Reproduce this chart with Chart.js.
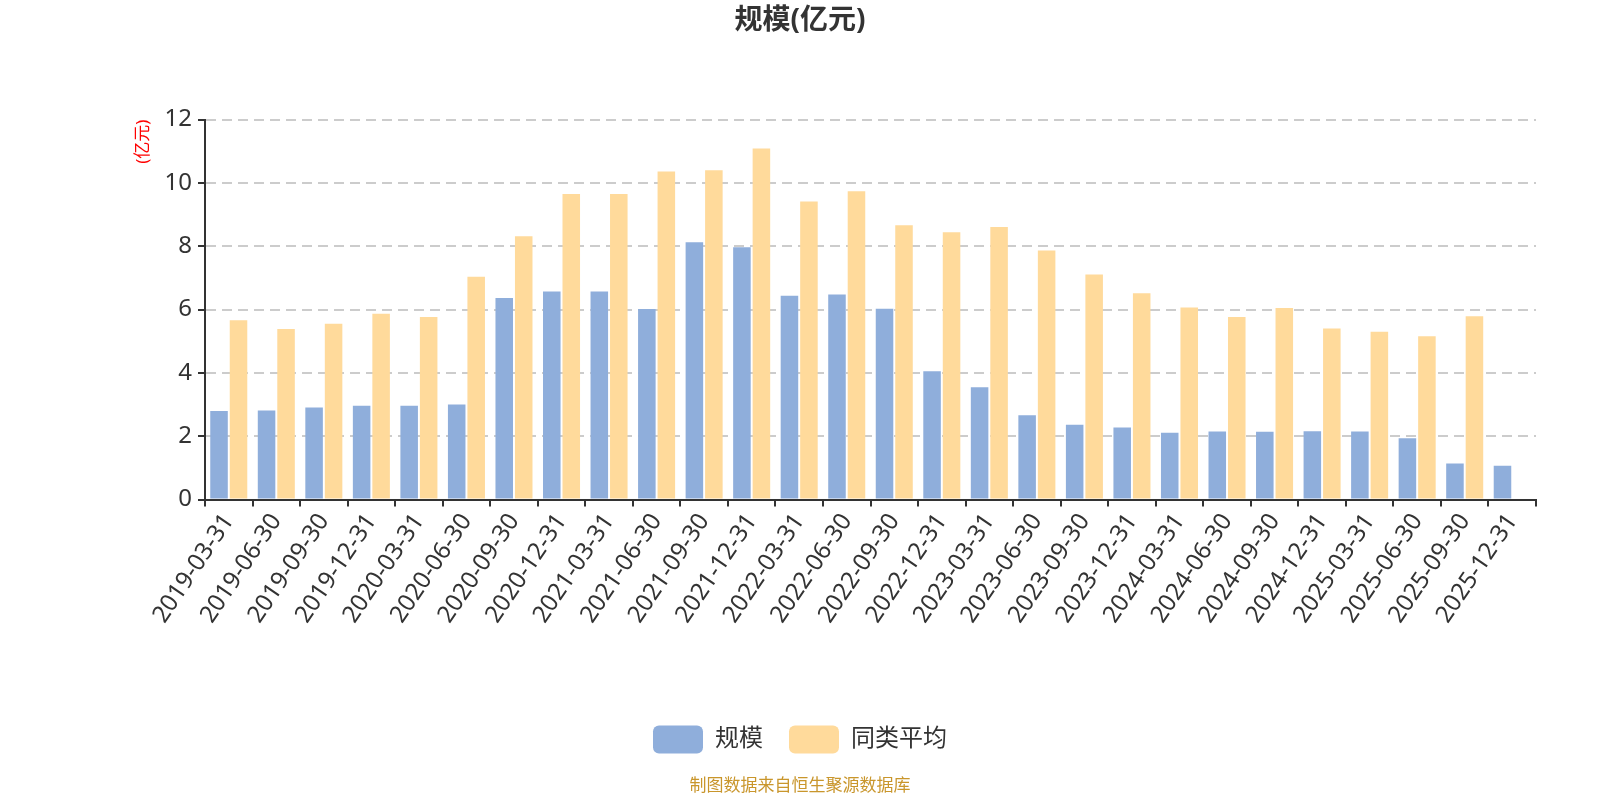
<!DOCTYPE html>
<html lang="zh">
<head>
    <meta charset="UTF-8">
    <title>规模(亿元)</title>
    <script src="https://cdn.jsdelivr.net/npm/chart.js"></script>
    <style>
        html, body { margin: 0; padding: 0; background: #fff; }
        #wrap { width: 1600px; height: 800px; }
    </style>
</head>
<body>
    <div id="wrap">
        <canvas id="scaleChart" width="1600" height="800"></canvas>
    </div>

    <script>
        // quarter-end dates
        const dates = [
            '2019-03-31', '2019-06-30', '2019-09-30', '2019-12-31',
            '2020-03-31', '2020-06-30', '2020-09-30', '2020-12-31',
            '2021-03-31', '2021-06-30', '2021-09-30', '2021-12-31',
            '2022-03-31', '2022-06-30', '2022-09-30', '2022-12-31',
            '2023-03-31', '2023-06-30', '2023-09-30', '2023-12-31',
            '2024-03-31', '2024-06-30', '2024-09-30', '2024-12-31',
            '2025-03-31', '2025-06-30', '2025-09-30', '2025-12-31'
        ];
        // fund size (亿元)
        const fundSize = [
            2.80, 2.81, 2.91, 2.96, 2.96, 3.00, 6.37, 6.57,
            6.57, 6.02, 8.13, 7.97, 6.44, 6.48, 6.03, 4.05,
            3.55, 2.66, 2.36, 2.28, 2.11, 2.15, 2.14, 2.16,
            2.15, 1.94, 1.14, 1.07
        ];
        // peer average (亿元)
        const peerAvg = [
            5.66, 5.39, 5.55, 5.87, 5.77, 7.04, 8.32, 9.65,
            9.65, 10.36, 10.40, 11.09, 9.41, 9.74, 8.66, 8.44,
            8.61, 7.87, 7.11, 6.52, 6.07, 5.77, 6.05, 5.40,
            5.30, 5.16, 5.79, null
        ];
        const yTicks = [0, 2, 4, 6, 8, 10, 12];

        const fontFamily = "'Noto Sans', 'Noto Sans CJK SC', sans-serif";

        const ctx = document.getElementById('scaleChart').getContext('2d');
        new Chart(ctx, {
            type: 'bar',
            data: {
                labels: dates,
                datasets: [
                    {
                        label: '规模',
                        data: fundSize,
                        backgroundColor: '#8faedb',
                        borderWidth: 0
                    },
                    {
                        label: '同类平均',
                        data: peerAvg,
                        backgroundColor: '#ffda9b',
                        borderWidth: 0
                    }
                ]
            },
            options: {
                responsive: false,
                animation: false,
                layout: {
                    // equal side padding keeps title/legend centred on the page
                    padding: { left: 64, right: 64, top: 0, bottom: 4 }
                },
                datasets: {
                    bar: { categoryPercentage: 0.82, barPercentage: 0.9 }
                },
                plugins: {
                    title: {
                        display: true,
                        text: '规模(亿元)',
                        color: '#333',
                        font: { family: fontFamily, size: 28, weight: 'bold' },
                        padding: { top: 4, bottom: 82 }
                    },
                    subtitle: {
                        display: true,
                        position: 'bottom',
                        text: '制图数据来自恒生聚源数据库',
                        color: '#c9962c',
                        font: { family: fontFamily, size: 17 },
                        padding: { top: 12, bottom: 0 }
                    },
                    legend: {
                        position: 'bottom',
                        labels: {
                            boxWidth: 50,
                            boxHeight: 28,
                            useBorderRadius: true,
                            borderRadius: 6,
                            color: '#333',
                            padding: 26,
                            font: { family: fontFamily, size: 24 }
                        }
                    },
                    tooltip: { enabled: false }
                },
                scales: {
                    x: {
                        offset: true,
                        grid: {
                            offset: true,
                            drawOnChartArea: false,
                            drawTicks: true,
                            tickLength: 7,
                            color: '#333',
                            lineWidth: 2
                        },
                        border: { color: '#333', width: 2 },
                        ticks: {
                            color: '#333',
                            minRotation: 56,
                            maxRotation: 56,
                            autoSkip: false,
                            padding: 2,
                            font: { family: fontFamily, size: 24 }
                        },
                        afterFit: function(scale) { scale.height = 200; }
                    },
                    y: {
                        min: 0,
                        max: 12,
                        afterBuildTicks: function(scale) {
                            scale.ticks = yTicks.map(v => ({ value: v }));
                        },
                        afterFit: function(scale) { scale.width = 141; },
                        grid: {
                            color: '#cccccc',
                            lineWidth: 2,
                            tickLength: 7,
                            tickColor: '#333',
                            drawTicks: true
                        },
                        border: { color: '#333', width: 2, dash: [10, 6] },
                        ticks: {
                            color: '#333',
                            padding: 6,
                            font: { family: fontFamily, size: 24 }
                        },
                        title: {
                            display: true,
                            text: '(亿元)',
                            color: '#ff0000',
                            align: 'end',
                            font: { family: fontFamily, size: 17 },
                            padding: { top: 69, bottom: 0 }
                        }
                    }
                }
            }
        });
    </script>
</body>
</html>
